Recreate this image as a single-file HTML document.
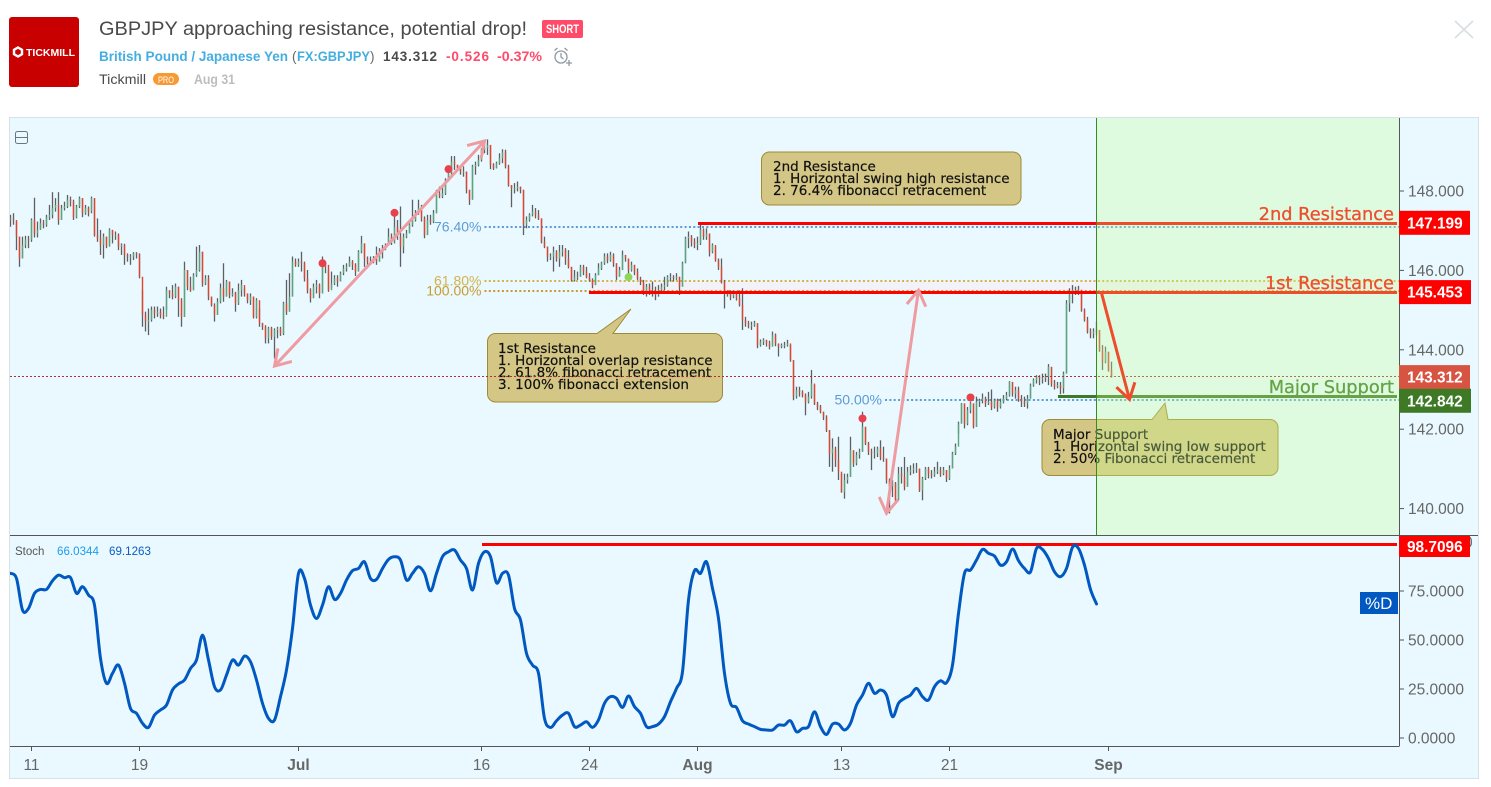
<!DOCTYPE html>
<html lang="en">
<head>
<meta charset="utf-8">
<title>GBPJPY approaching resistance, potential drop!</title>
<style>
html,body{margin:0;padding:0;background:#fff;width:1491px;height:787px;overflow:hidden}
svg{display:block;font-family:"Liberation Sans",sans-serif}
.callout{font-family:"DejaVu Sans",sans-serif;font-size:13.5px;fill:#111;stroke:#111;stroke-width:.2}
</style>
</head>
<body>
<svg id="root" width="1491" height="787" viewBox="0 0 1491 787" xmlns="http://www.w3.org/2000/svg">
  <defs>
    <clipPath id="priceClip"><rect x="10" y="118" width="1389" height="417"/></clipPath>
    <clipPath id="stochClip"><rect x="10" y="536" width="1389" height="210"/></clipPath>
    <clipPath id="axisClip"><rect x="1399" y="536" width="79" height="210"/></clipPath>
  </defs>

  <!-- header -->
  <g>
    <rect x="9" y="17" width="70" height="70" rx="3" fill="#c80000"/>
    <polygon points="18,47.5 22,49.8 22,54.2 18,56.5 14,54.2 14,49.8" fill="none" stroke="#fff" stroke-width="2.4"/>
    <text x="26" y="56" font-size="10.5" font-weight="bold" fill="#fff" textLength="49" lengthAdjust="spacingAndGlyphs">TICKMILL</text>
    <text x="99" y="35" font-size="19" fill="#4a4a4a" textLength="428" lengthAdjust="spacingAndGlyphs">GBPJPY approaching resistance, potential drop!</text>
    <rect x="542" y="20" width="41" height="18" rx="2" fill="#ff4a68"/>
    <text x="546" y="33" font-size="11.5" font-weight="bold" fill="#fff" textLength="33" lengthAdjust="spacingAndGlyphs">SHORT</text>
    <text x="99" y="61" font-size="13.5" font-weight="bold" fill="#45aee0" textLength="189" lengthAdjust="spacingAndGlyphs">British Pound / Japanese Yen</text>
    <text x="292" y="61" font-size="13.5" fill="#666">(</text>
    <text x="297" y="61" font-size="13.5" font-weight="bold" fill="#45aee0" textLength="73" lengthAdjust="spacingAndGlyphs">FX:GBPJPY</text>
    <text x="370" y="61" font-size="13.5" fill="#666">)</text>
    <text x="383" y="61" font-size="13.5" font-weight="bold" fill="#4a4a4a" textLength="54" lengthAdjust="spacing">143.312</text>
    <text x="446" y="61" font-size="13.5" font-weight="bold" fill="#ff4a68" textLength="43" lengthAdjust="spacing">-0.526</text>
    <text x="497" y="61" font-size="13.5" font-weight="bold" fill="#ff4a68" textLength="45" lengthAdjust="spacingAndGlyphs">-0.37%</text>
    <g fill="none" stroke="#8d9aa5" stroke-width="1.3">
      <circle cx="561" cy="57" r="6"/>
      <path d="M561 53v4l2.5 2M554.5 50.5l3-2.5M567.5 50.5l-3-2.5M569 60v6M566 63h6"/>
    </g>
    <text x="99" y="84" font-size="13.5" fill="#4a4a4a" textLength="47" lengthAdjust="spacingAndGlyphs">Tickmill</text>
    <rect x="153" y="73" width="26" height="12" rx="6" fill="#f79a34"/>
    <text x="158" y="83" font-size="9.5" fill="#fff" textLength="16" lengthAdjust="spacingAndGlyphs">PRO</text>
    <text x="194" y="84" font-size="13.5" font-weight="bold" fill="#bdbdbd" textLength="41" lengthAdjust="spacingAndGlyphs">Aug 31</text>
    <path d="M1455 21L1473 38M1473 21L1455 38" stroke="#d8dee2" stroke-width="1.6" fill="none"/>
  </g>

  <!-- panel -->
  <rect x="9.5" y="117.5" width="1469" height="661" fill="#e9f9ff" stroke="#d6e2e8"/>

  <g clip-path="url(#priceClip)">
    <g id="fibLayer"></g>
    <g id="candleLayer"></g>
    <g id="levelLayer"></g>
    <g id="arrowLayer"></g>
    <g id="markerLayer"></g>

    <g>
      <rect x="761.5" y="152" width="259.5" height="53" rx="8" fill="#d4c685" stroke="#a08a34"/>
      <text class="callout">
        <tspan x="773" y="171">2nd Resistance</tspan>
        <tspan x="773" y="183">1. Horizontal swing high resistance</tspan>
        <tspan x="773" y="195">2. 76.4% fibonacci retracement</tspan>
      </text>
    </g>
    <g>
      <path d="M495.5 333.5H597L631 309L613 333.5H714.5a8 8 0 0 1 8 8V394a8 8 0 0 1 -8 8H495.5a8 8 0 0 1 -8 -8V341.5a8 8 0 0 1 8 -8Z" fill="#d4c685" stroke="#a08a34"/>
      <text class="callout">
        <tspan x="498" y="353">1st Resistance</tspan>
        <tspan x="498" y="365">1. Horizontal overlap resistance</tspan>
        <tspan x="498" y="377">2. 61.8% fibonacci retracement</tspan>
        <tspan x="498" y="389">3. 100% fibonacci extension</tspan>
      </text>
    </g>
    <g>
      <path d="M1050 419.5H1152L1165 403L1168 419.5H1270a8 8 0 0 1 8 8V467.5a8 8 0 0 1 -8 8H1050a8 8 0 0 1 -8 -8V427.5a8 8 0 0 1 8 -8Z" fill="#d4c685" stroke="#a08a34"/>
      <text class="callout">
        <tspan x="1053" y="439">Major Support</tspan>
        <tspan x="1053" y="451">1. Horizontal swing low support</tspan>
        <tspan x="1053" y="463">2. 50% Fibonacci retracement</tspan>
      </text>
    </g>
    <g id="levelTextLayer"></g>
    <g id="currentLayer"></g>
    <rect x="1097" y="118" width="302" height="417" fill="rgb(200,255,150)" fill-opacity="0.3"/>
    <line x1="1096.5" y1="118" x2="1096.5" y2="535" stroke="#3a8a20" stroke-width="1"/>
  </g>

  <g clip-path="url(#stochClip)">
    <g id="stochRefLayer"></g>
    <path id="stochLine" fill="none" stroke="#0058c0" stroke-width="3" stroke-linejoin="round" stroke-linecap="round"/>
  </g>

  <g>
    <rect x="15.5" y="131.5" width="12" height="12" rx="2" fill="none" stroke="#6b7780"/>
    <line x1="16" y1="137.5" x2="27" y2="137.5" stroke="#6b7780"/>
  </g>

  <g>
    <text x="15" y="555" font-size="11.5" fill="#555">Stoch</text>
    <text x="57" y="555" font-size="11.6" fill="#1e9cf0">66.0344</text>
    <text x="109" y="555" font-size="11.6" fill="#0a5cc4">69.1263</text>
  </g>

  <g>
    <line x1="1399.5" y1="118" x2="1399.5" y2="746" stroke="#555"/>
    <line x1="10" y1="535.5" x2="1478" y2="535.5" stroke="#555"/>
    <line x1="10" y1="746.5" x2="1399.5" y2="746.5" stroke="#555"/>
  </g>
  <g id="axisLayer"></g>
  <g id="tagLayer"></g>

  <rect x="1360" y="592" width="38" height="22" fill="#0058c0"/>
  <text x="1365" y="609" font-size="17" fill="#fff">%D</text>
</svg>

<script>
const closes = [
147.31,147.27,146.85,146.30,146.64,146.78,146.77,147.27,146.93,147.02,
147.19,147.15,147.34,147.40,147.57,147.65,147.27,147.57,147.61,147.78,
147.73,147.34,147.61,147.82,147.44,147.57,147.48,147.82,146.89,146.81,
146.64,146.85,146.62,147.02,146.89,146.89,146.60,146.64,146.39,146.35,
146.35,146.43,146.41,145.84,144.88,144.71,144.75,145.00,144.92,144.96,
144.88,144.83,145.50,145.42,145.34,145.59,145.25,144.83,146.01,145.59,
145.50,145.88,146.01,146.47,145.67,145.80,145.34,145.13,144.88,145.21,
145.55,145.34,145.72,145.38,145.42,145.17,145.50,145.63,145.42,145.25,
145.34,144.83,145.25,144.67,144.58,144.29,144.54,144.33,144.50,144.54,
144.41,145.17,144.96,145.34,146.22,146.14,146.22,146.18,145.80,145.50,
145.30,145.59,145.63,145.42,146.09,146.14,145.50,145.67,145.80,145.72,
145.93,146.05,146.09,146.22,146.14,145.97,146.47,146.68,146.30,146.22,
146.22,146.30,146.22,146.47,146.56,146.64,146.85,146.72,147.10,146.85,
146.60,146.85,146.93,147.15,147.27,147.44,147.57,147.31,146.89,147.27,
147.23,147.44,147.94,147.86,147.94,148.28,148.45,148.74,148.66,148.57,
148.49,148.49,148.03,147.78,148.62,148.66,148.78,149.04,149.08,149.16,
148.66,148.57,148.70,148.83,148.99,148.62,148.15,148.07,148.07,148.11,
148.03,147.15,147.27,147.40,147.48,147.40,147.31,146.72,146.60,146.35,
146.35,146.47,146.30,146.47,146.51,146.30,146.09,145.76,145.84,145.84,
146.09,145.97,145.84,145.76,145.63,145.88,146.05,146.18,146.35,146.26,
146.39,146.18,145.84,146.01,146.39,146.30,146.01,146.14,145.97,145.80,
145.72,145.42,145.59,145.50,145.42,145.38,145.50,145.59,145.63,145.84,
145.84,145.80,145.84,145.59,146.18,146.81,146.85,146.72,146.64,146.68,
147.02,146.85,146.93,146.47,146.64,146.26,146.09,145.72,145.42,145.42,
145.34,145.42,145.30,145.13,144.75,144.67,144.62,144.62,144.67,144.12,
144.20,144.25,144.16,144.08,144.37,144.16,144.08,144.12,144.12,144.16,
143.74,142.82,142.98,142.94,142.86,142.69,142.82,143.15,142.65,142.56,
142.44,142.31,141.98,141.39,141.51,141.22,140.93,140.42,140.72,140.80,
141.47,141.14,141.35,141.43,142.06,141.64,141.43,141.39,141.39,141.51,
141.30,141.26,140.72,140.55,140.63,140.21,140.88,140.80,140.55,140.93,
140.97,141.01,141.01,140.46,140.76,141.01,140.88,140.84,140.93,140.97,
140.88,140.97,140.76,141.01,141.39,141.56,142.14,142.65,142.14,142.48,
142.65,142.06,142.69,142.73,142.77,142.65,142.69,142.56,142.73,142.56,
142.69,142.77,142.86,143.19,142.90,142.98,142.77,142.69,142.65,142.77,
143.11,143.24,143.32,143.28,143.28,143.32,143.57,143.15,143.07,143.11,
143.03,143.40,145.17,145.46,145.51,145.51,145.51,145.00,144.75,144.46,
144.41,144.46,144.50,143.99,143.70,143.95,143.49,143.31];

const highs = [
147.40,147.44,147.23,146.85,146.85,146.87,146.87,147.31,147.83,147.23,
147.31,147.27,147.40,147.65,147.97,147.82,147.97,147.65,147.73,147.90,
147.86,147.78,147.65,147.86,147.82,147.65,147.61,147.86,147.82,147.31,
147.02,146.93,146.85,147.06,147.02,146.98,146.93,146.68,146.67,146.43,
146.41,146.46,146.46,146.43,145.50,144.96,145.04,145.09,145.09,145.09,
145.04,145.09,145.59,145.50,145.63,145.67,145.59,145.30,146.22,146.01,
145.84,145.93,146.60,146.64,146.47,145.88,145.88,145.34,145.17,145.30,
145.67,146.18,145.76,145.72,145.55,145.46,145.67,145.76,145.55,145.42,
145.42,145.34,145.30,145.04,144.68,144.62,144.58,144.58,144.54,144.58,
144.58,145.21,145.76,145.93,146.35,146.30,146.30,146.47,146.22,146.01,
145.55,145.67,145.76,145.67,146.35,146.22,146.01,145.97,145.88,145.88,
145.97,146.14,146.18,146.35,146.26,146.18,146.51,146.87,146.68,146.35,
146.35,146.36,146.60,146.56,146.64,146.68,147.06,146.93,147.48,147.27,
147.61,146.93,147.02,147.23,147.78,147.52,147.78,147.65,147.36,147.40,
147.40,147.52,148.03,148.11,148.15,148.32,148.53,148.88,148.88,148.66,
148.62,148.62,148.49,148.03,148.66,148.74,148.91,149.08,149.20,149.30,
149.16,148.70,148.74,148.95,149.05,149.04,148.66,148.15,148.20,148.24,
148.11,148.03,147.36,147.44,147.65,147.57,147.52,147.31,146.85,146.60,
146.43,146.60,146.51,146.64,146.64,146.56,146.51,146.09,146.01,145.97,
146.14,146.14,146.09,145.93,145.80,145.93,146.18,146.22,146.43,146.43,
146.47,146.43,146.18,146.09,146.50,146.39,146.30,146.22,146.14,146.05,
145.84,145.76,145.66,145.67,145.72,145.59,145.63,145.67,145.84,145.88,
145.93,145.88,145.93,145.84,146.22,146.85,146.98,146.89,146.81,146.85,
147.15,147.06,147.06,146.93,146.68,146.60,146.30,146.30,145.76,145.50,
145.50,145.49,145.44,145.50,145.55,144.83,144.73,144.71,144.73,144.67,
144.26,144.29,144.25,144.23,144.46,144.41,144.16,144.16,144.20,144.25,
144.12,143.74,143.07,143.07,142.98,142.90,142.94,143.49,143.11,142.69,
142.61,142.44,142.35,141.98,141.77,141.56,141.81,140.88,140.88,140.88,
141.81,141.47,141.43,141.51,142.44,142.06,141.68,141.51,141.56,141.56,
141.72,141.56,141.26,140.76,140.72,140.67,141.05,141.05,141.30,141.05,
141.09,141.14,141.15,141.01,140.80,141.05,141.05,140.97,141.05,141.18,
141.05,141.05,140.97,141.09,141.43,141.64,142.19,142.66,142.65,142.56,
142.69,142.65,142.82,142.77,142.90,142.82,142.94,143.00,142.77,142.77,
142.77,142.86,142.94,143.21,143.19,143.07,143.07,142.86,142.82,142.86,
143.15,143.28,143.36,143.36,143.40,143.40,143.64,143.57,143.24,143.19,
143.19,143.45,145.25,145.55,145.63,145.59,145.61,145.51,145.04,144.83,
144.54,144.54,144.71,144.50,144.12,144.08,143.95,143.70];

const lows = [
147.10,147.15,146.51,146.09,146.30,146.56,146.56,146.72,146.83,146.83,
147.02,147.06,147.10,147.27,147.31,147.48,147.15,147.27,147.51,147.57,
147.61,147.27,147.31,147.57,147.34,147.40,147.36,147.44,146.85,146.72,
146.39,146.30,146.56,146.60,146.68,146.77,146.51,146.39,146.14,146.22,
146.14,146.26,146.30,145.80,144.58,144.46,144.37,144.71,144.79,144.83,
144.79,144.77,145.00,145.30,145.27,145.30,144.83,144.58,144.83,145.50,
145.46,145.50,145.84,145.97,145.59,145.63,145.25,145.09,144.71,144.88,
145.17,145.21,145.34,145.30,145.34,144.96,145.13,145.34,145.34,145.17,
145.13,144.79,144.79,144.58,144.50,144.16,144.16,144.25,143.78,144.29,
144.35,144.37,144.88,144.96,145.34,146.09,146.09,145.97,145.72,145.42,
145.19,145.30,145.42,145.30,145.42,145.93,145.46,145.55,145.63,145.59,
145.72,145.88,145.97,146.09,146.01,145.86,145.97,146.43,146.09,146.09,
146.14,146.18,146.14,146.22,146.30,146.51,146.64,146.64,146.68,146.77,
146.09,146.43,146.81,146.93,147.10,147.23,147.40,147.23,146.81,146.89,
147.15,147.19,147.44,147.82,147.82,147.90,148.24,148.41,148.53,148.53,
148.41,148.36,147.94,147.65,147.78,148.41,148.62,148.74,148.95,148.91,
148.55,148.53,148.57,148.66,148.70,148.57,148.11,147.59,147.94,147.99,
147.94,146.89,147.06,147.23,147.36,147.31,147.27,146.68,146.56,146.22,
146.26,145.97,146.22,146.09,146.35,146.14,146.05,145.72,145.72,145.76,
145.84,145.88,145.80,145.72,145.55,145.63,145.88,146.01,146.14,146.18,
146.22,146.09,145.76,145.84,146.01,146.22,145.80,145.97,145.88,145.76,
145.63,145.38,145.34,145.38,145.34,145.25,145.34,145.46,145.50,145.59,
145.72,145.72,145.76,145.38,145.59,146.18,146.56,146.60,146.56,146.51,
146.64,146.77,146.77,146.35,146.43,146.22,146.01,145.67,145.04,145.34,
145.25,145.30,145.24,145.09,144.50,144.58,144.54,144.50,144.58,144.04,
144.08,144.12,144.08,144.01,144.08,144.09,143.83,144.04,144.04,144.08,
143.70,142.73,142.77,142.82,142.80,142.35,142.65,142.77,142.61,142.48,
142.40,142.23,141.93,141.05,140.93,141.05,140.72,140.40,140.25,140.63,
140.80,141.05,141.09,141.26,141.43,141.60,141.35,140.97,141.26,141.30,
141.22,141.18,140.63,139.88,140.29,140.17,140.21,140.63,140.46,140.55,
140.84,140.88,140.90,140.42,140.21,140.72,140.76,140.76,140.80,140.87,
140.80,140.84,140.67,140.72,141.01,141.35,141.89,142.14,142.02,142.10,
142.40,142.02,142.06,142.56,142.65,142.56,142.61,142.48,142.52,142.44,
142.52,142.65,142.73,142.82,142.82,142.77,142.69,142.56,142.56,142.52,
142.77,143.07,143.15,143.11,143.15,143.19,143.11,143.07,143.00,143.03,
142.88,142.90,143.40,144.96,145.17,145.38,145.38,144.96,144.71,144.41,
144.29,144.29,144.37,143.95,143.49,143.66,143.45,143.30];

// Stochastic %D, one reading every stochStep bars
const stochStep = 2;
const stochD = [
84.0,81.4,65.3,66.1,73.8,75.8,75.8,80.2,83.1,81.8,
81.9,73.8,77.2,72.9,67.8,40.6,27.9,33.0,37.2,27.9,
15.1,12.6,7.5,5.4,11.7,14.3,16.8,24.5,27.6,29.6,
35.5,39.8,52.5,39.8,26.2,24.5,32.1,39.8,37.2,41.8,
38.9,29.6,17.7,10.0,9.2,21.1,34.7,55.9,84.0,81.4,
67.8,61.0,67.8,77.2,70.7,73.8,80.6,85.4,86.5,89.9,
81.4,80.9,86.5,91.1,92.5,90.8,80.6,84.0,87.4,84.0,
75.1,84.0,92.5,95.0,95.9,90.8,86.5,75.5,89.1,95.0,
92.5,79.2,84.0,83.1,66.1,60.2,43.2,37.2,33.0,10.0,
5.4,8.8,11.7,12.6,5.8,6.6,8.3,5.4,9.2,17.7,
21.1,20.2,15.6,21.4,16.0,12.6,5.8,5.8,7.1,10.9,
18.5,25.3,33.8,70.4,85.4,84.0,89.9,76.3,61.0,33.0,
17.7,15.6,8.8,7.1,5.8,4.4,4.1,4.1,6.6,6.6,
8.8,3.2,4.9,5.8,13.4,5.8,1.8,7.1,7.1,4.1,
7.5,16.8,21.9,27.9,22.8,24.5,21.9,10.9,17.7,20.2,
21.9,25.3,21.1,19.4,26.2,29.2,28.2,37.2,63.6,84.0,
85.7,90.8,96.2,94.2,92.8,88.2,89.9,96.4,90.5,86.5,
84.8,96.7,96.2,91.6,84.8,82.3,86.5,97.3,96.7,88.2,
75.8,68.4];

const priceTicks = [148, 146, 144, 142, 140];
const stochTicks = [100, 75, 50, 25, 0];
const timeTickBars = [7, 43, 96, 157, 193, 229, 277, 313, 366];
const timeTickLabels = ["11", "19", "Jul", "16", "24", "Aug", "13", "21", "Sep"];
const timeTickMajor = [false, false, true, false, false, true, false, false, true];

const secondResistance = 147.199;
const firstResistance = 145.453;
const majorSupport = 142.842;
const lastPrice = 143.312;
const stochHigh = 98.7096;
const fibPrices = [147.09, 145.73, 145.48, 142.74];
const fibLabels = ["76.40%", "61.80%", "100.00%", "50.00%"];
const fibStartBars = [158, 158, 158, 291.5];
const fibColors = ["#5b9bd5", "#d4b24a", "#c99a2e", "#5b9bd5"];
const markerBars = [104, 128, 146, 284, 320, 206];
const markerPrices = [146.18, 147.45, 148.55, 142.27, 142.80, 145.83];
const markerKinds = ["high", "high", "high", "high", "high", "low"];
const arrowFromBars = [88, 292, 363.67];
const arrowFromPrices = [143.59, 139.88, 145.43];
const arrowToBars = [158, 302.67, 373];
const arrowToPrices = [149.26, 145.50, 142.75];
const arrowDouble = [true, true, false];
const arrowColors = ["#ee9ba1", "#ee9ba1", "#ff0000"];

const NS = "http://www.w3.org/2000/svg";
const xOf = i => 10.5 + 3 * i;
const yOf = p => 191 + (148 - p) * 39.7;
const stochY = v => 738 - v * 1.96;
const layer = id => document.getElementById(id);

function make(tag, attrs, parent, content) {
  const node = document.createElementNS(NS, tag);
  for (const key in attrs) node.setAttribute(key, attrs[key]);
  if (content !== undefined) node.textContent = content;
  parent.appendChild(node);
  return node;
}

// candles
closes.forEach((close, i) => {
  const open = i === 0 ? close : closes[i - 1];
  const x = xOf(i);
  const wick = make("line", {x1: x, x2: x, y1: yOf(highs[i]), y2: yOf(lows[i]), stroke: "#5f5f62", "stroke-width": 1.3}, layer("candleLayer"));
  
  
  const top = yOf(Math.max(open, close));
  const height = Math.max(1, Math.abs(yOf(open) - yOf(close)));
  const body = make("rect", {x: x - 0.7, y: top, width: 1.4, height: height, fill: close >= open ? "#5aa57e" : "#e2452f"}, layer("candleLayer"));
  
  
});

// fibonacci band and levels
const fibBand = make("rect", {x: 590, y: yOf(fibPrices[1]), width: 809, height: yOf(fibPrices[2]) - yOf(fibPrices[1]), fill: "#f1f3f8"}, layer("fibLayer"));


fibPrices.forEach((price, i) => {
  const y = yOf(price);
  const x0 = xOf(fibStartBars[i]);
  const snapped = Math.round(y);
  const line = make("line", {x1: x0, x2: 1399, y1: snapped, y2: snapped, stroke: fibColors[i], "stroke-width": 2, "stroke-dasharray": "2 2.35"}, layer("fibLayer"));
  
  
  const label = make("text", {x: x0 - 3, y: y + 4.5, "text-anchor": "end", "font-size": 14, fill: fibColors[i]}, layer("fibLayer"), fibLabels[i]);
  
  
});

// support / resistance lines
function levelLine(price, x0, color, name) {
  const y = Math.round(yOf(price)) + 0.5;
  const line = make("line", {x1: x0, x2: 1397, y1: y, y2: y, stroke: color, "stroke-width": 3}, layer("levelLayer"));
  
  
}
levelLine(secondResistance, 698, "#ff0000", "second-resistance-line");
levelLine(firstResistance, 589, "#ff0000", "first-resistance-line");
levelLine(majorSupport, 1058, "#3e7a26", "major-support-line");

function levelText(str, price, color, name) {
  const t = make("text", {x: 1394, y: yOf(price) - 3, "text-anchor": "end", "font-size": 17.8, fill: color, stroke: color, "stroke-width": 0.3, style: 'font-family:"DejaVu Sans",sans-serif'}, layer("levelTextLayer"), str);
  
  
}
levelText("2nd Resistance", secondResistance, "#ff0000", "second-resistance-label");
levelText("1st Resistance", firstResistance, "#ff0000", "first-resistance-label");
levelText("Major Support", majorSupport, "#3e7a26", "major-support-label");

// arrows
function head(tx, ty, fx, fy) {
  const a = Math.atan2(fy - ty, fx - tx), len = 18, spread = 0.56;
  return `M${tx + len * Math.cos(a + spread)} ${ty + len * Math.sin(a + spread)}L${tx} ${ty}L${tx + len * Math.cos(a - spread)} ${ty + len * Math.sin(a - spread)}`;
}
arrowFromBars.forEach((bar, i) => {
  const fx = xOf(bar), fy = yOf(arrowFromPrices[i]);
  const tx = xOf(arrowToBars[i]), ty = yOf(arrowToPrices[i]);
  let d = `M${fx} ${fy}L${tx} ${ty}` + head(tx, ty, fx, fy);
  if (arrowDouble[i]) d += head(fx, fy, tx, ty);
  const arrow = make("path", {d: d, fill: "none", stroke: arrowColors[i], "stroke-width": 3}, layer("arrowLayer"));
  
  
});

// markers
markerBars.forEach((bar, i) => {
  const dot = make("circle", {cx: xOf(bar), cy: yOf(markerPrices[i]), r: 4, fill: markerKinds[i] === "high" ? "#e8414c" : "#8fd65a"}, layer("markerLayer"));
  
  
});

// current price line
const currentY = Math.round(yOf(lastPrice)) - 0.5;
const currentLine = make("line", {x1: 10, x2: 1399, y1: currentY, y2: currentY, stroke: "#a8342a", "stroke-width": 1, "stroke-dasharray": "2 2"}, layer("currentLayer"));



// stochastic, drawn as a rounded curve through each reading
const stochPts = stochD.map((v, k) => [xOf(k * stochStep), stochY(v)]);
let stochPath = `M${stochPts[0][0]} ${stochPts[0][1]}`;
for (let k = 0; k < stochPts.length - 1; k++) {
  const p0 = stochPts[Math.max(0, k - 1)], p1 = stochPts[k], p2 = stochPts[k + 1], p3 = stochPts[Math.min(stochPts.length - 1, k + 2)];
  stochPath += `C${p1[0] + (p2[0] - p0[0]) / 6} ${p1[1] + (p2[1] - p0[1]) / 6} ${p2[0] - (p3[0] - p1[0]) / 6} ${p2[1] - (p3[1] - p1[1]) / 6} ${p2[0]} ${p2[1]}`;
}
layer("stochLine").setAttribute("d", stochPath);
const stochRef = make("line", {x1: 482, x2: 1397, y1: stochY(stochHigh), y2: stochY(stochHigh), stroke: "#ff0000", "stroke-width": 3}, layer("stochRefLayer"));



// axis labels
priceTicks.forEach(v => {
  const tick = make("line", {x1: 1399, x2: 1404, y1: yOf(v), y2: yOf(v), stroke: "#555"}, layer("axisLayer"));
  
  
  const label = make("text", {x: 1408, y: yOf(v) + 5.5, "font-size": 15.5, fill: "#666"}, layer("axisLayer"), v.toFixed(3));
  
  
});
const stochAxisGroup = make("g", {"clip-path": "url(#axisClip)"}, layer("axisLayer"));


stochTicks.forEach(v => {
  const tick = make("line", {x1: 1399, x2: 1404, y1: stochY(v), y2: stochY(v), stroke: "#555"}, stochAxisGroup);
  
  
  const label = make("text", {x: 1408, y: stochY(v) + 5.5, "font-size": 15.5, fill: "#666"}, stochAxisGroup, v.toFixed(4));
  
  
});
timeTickBars.forEach((bar, i) => {
  const x = xOf(bar);
  const tick = make("line", {x1: x, x2: x, y1: 746, y2: 751, stroke: "#555"}, layer("axisLayer"));
  
  
  const label = make("text", {x: x, y: 770, "text-anchor": "middle", "font-size": 15.5, "font-weight": timeTickMajor[i] ? "bold" : "normal", fill: "#666"}, layer("axisLayer"), timeTickLabels[i]);
  
  
});

// price tags
function tag(value, digits, color, top, height, right, name) {
  const box = make("rect", {x: 1399, y: top, width: right - 1399, height: height, fill: color}, layer("tagLayer"));
  
  
  const label = make("text", {x: 1407, y: top + height / 2 + 5.5, "font-size": 15.4, "font-weight": "bold", fill: "#fff"}, layer("tagLayer"), value.toFixed(digits));
  
  
}
tag(secondResistance, 3, "#ff0000", yOf(secondResistance) - 12, 24, 1470, "second-resistance-tag");
tag(firstResistance, 3, "#ff0000", yOf(firstResistance) - 12, 24, 1471, "first-resistance-tag");
tag(lastPrice, 3, "#d75442", yOf(lastPrice) - 12, 24, 1470, "last-price-tag");
tag(majorSupport, 3, "#3e7a26", yOf(majorSupport) - 7, 24, 1471, "major-support-tag");
tag(stochHigh, 4, "#ff0000", 536, 21, 1470, "stoch-high-tag");
</script>
</body>
</html>
